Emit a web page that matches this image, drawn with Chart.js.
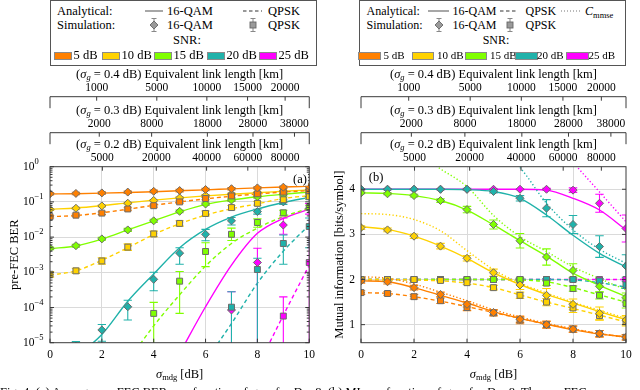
<!DOCTYPE html>
<html>
<head>
<meta charset="utf-8">
<script src="https://cdn.jsdelivr.net/npm/chart.js@4.4.1/dist/chart.umd.min.js"></script>
<style>
  body { margin: 0; width: 640px; height: 390px; overflow: hidden; position: relative; background: #fff;
         font-family: "Liberation Serif", serif; font-size: 12.5px; color: #000; }
  .box { position: absolute; top: 0; height: 66px; width: 267px; border: 1.2px solid #555; box-sizing: border-box; }
  .t { position: absolute; line-height: 14px; white-space: nowrap; }
  .r { font-size: 12px; }
  .rs { font-size: 11px; }
  .c { transform: translateX(-50%); }
  .sw { position: absolute; height: 6px; border: 0.8px solid #8a8a8a; }
  svg { position: absolute; }
  canvas { position: absolute; top: 60px; }
  #caption { position: absolute; left: 0; top: 385px; font-size: 12.5px; line-height: 14px; white-space: nowrap; }
</style>
</head>
<body>

<!-- leyenda izquierda -->
<div class="box" style="left:50px"></div>
<div class="t" style="left:57px;top:4px">Analytical:</div>
<svg style="left:145px;top:7px" width="18" height="8"><line x1="0" y1="4" x2="18" y2="4" stroke="#777" stroke-width="1.3"/></svg>
<div class="t" style="left:167px;top:4px">16-QAM</div>
<svg style="left:243px;top:7px" width="19" height="8"><line x1="0" y1="4" x2="19" y2="4" stroke="#777" stroke-width="1.3" stroke-dasharray="3.5,2.5"/></svg>
<div class="t" style="left:268px;top:4px">QPSK</div>
<div class="t" style="left:57px;top:18px">Simulation:</div>
<svg style="left:149px;top:17px" width="10" height="16"><path d="M5 1.5V14.5M2.5 1.5H7.5M2.5 14.5H7.5" stroke="#888" stroke-width="1"/><path d="M5 4L9 8L5 12L1 8Z" fill="#9a9a9a" stroke="#666" stroke-width="0.9"/></svg>
<div class="t" style="left:167px;top:18px">16-QAM</div>
<svg style="left:248px;top:17px" width="10" height="16"><path d="M5 1.5V14.5M2.5 1.5H7.5M2.5 14.5H7.5" stroke="#888" stroke-width="1"/><rect x="2" y="5" width="6" height="6" fill="#9a9a9a" stroke="#666" stroke-width="0.9"/></svg>
<div class="t" style="left:268px;top:18px">QPSK</div>
<div class="t c" style="left:187px;top:33px">SNR:</div>

<!-- leyenda derecha -->
<div class="box" style="left:359px"></div>
<div class="t r" style="left:366.5px;top:4px">Analytical:</div>
<svg style="left:428px;top:7px" width="21" height="8"><line x1="0" y1="4" x2="21" y2="4" stroke="#777" stroke-width="1.3"/></svg>
<div class="t r" style="left:452.5px;top:4px">16-QAM</div>
<svg style="left:500px;top:7px" width="18" height="8"><line x1="0" y1="4" x2="18" y2="4" stroke="#777" stroke-width="1.3" stroke-dasharray="3.5,2.5"/></svg>
<div class="t r" style="left:525.5px;top:4px">QPSK</div>
<svg style="left:561px;top:7px" width="21" height="8"><line x1="0" y1="4" x2="21" y2="4" stroke="#777" stroke-width="1.2" stroke-dasharray="1,2"/></svg>
<div class="t r" style="left:585px;top:4px"><i>C</i><span style="font-size:8.5px;position:relative;top:3px">mmse</span></div>
<div class="t r" style="left:366.5px;top:18px">Simulation:</div>
<svg style="left:434px;top:17px" width="10" height="16"><path d="M5 1.5V14.5M2.5 1.5H7.5M2.5 14.5H7.5" stroke="#888" stroke-width="1"/><path d="M5 4L9 8L5 12L1 8Z" fill="#9a9a9a" stroke="#666" stroke-width="0.9"/></svg>
<div class="t r" style="left:452.5px;top:18px">16-QAM</div>
<svg style="left:505px;top:17px" width="10" height="16"><path d="M5 1.5V14.5M2.5 1.5H7.5M2.5 14.5H7.5" stroke="#888" stroke-width="1"/><rect x="2" y="5" width="6" height="6" fill="#9a9a9a" stroke="#666" stroke-width="0.9"/></svg>
<div class="t r" style="left:525.5px;top:18px">QPSK</div>
<div class="t r c" style="left:496px;top:33px">SNR:</div>

<canvas id="berCanvas" width="320" height="330" style="left:0"></canvas>
<canvas id="miCanvas" width="320" height="330" style="left:320px"></canvas>

<div id="caption">Fig. 4: (a) Average pre-FEC BER as a function of <i>σ</i><sub style="font-size:8.5px">mdg</sub> for <i>D</i> = 8. (b) MI as a function of <i>σ</i><sub style="font-size:8.5px">mdg</sub> for <i>D</i> = 8. The pre-FEC</div>

<script>
// Datos
var sigmaMdg = [0, 1, 2, 3, 4, 5, 6, 7, 8, 9, 10];
var snrNames = ['5 dB', '10 dB', '15 dB', '20 dB', '25 dB'];
var snrColors = ['#ff8000', '#ffd200', '#80ff00', '#20b2aa', '#ff00ff'];

// ejes superiores: longitud equivalente [km] y su sigma_mdg
var linkKm04 = [1000, 5000, 10000, 15000, 20000];
var sigmaKm04 = [1.8, 4.12, 6.05, 7.62, 9.07];
var linkKm03 = [2000, 8000, 18000, 28000, 38000];
var sigmaKm03 = [1.9, 3.92, 6.07, 7.83, 9.43];
var linkKm02 = [5000, 20000, 40000, 60000, 80000];
var sigmaKm02 = [2.02, 4.1, 6.04, 7.63, 9.07];
var miTicks = [1, 2, 3, 4];

// (a) pre-FEC BER, analitico
var berAna16qam = [
  [0.168, 0.171, 0.177, 0.185, 0.195, 0.207, 0.22, 0.235, 0.25, 0.265, 0.28],
  [0.062, 0.067, 0.078, 0.094, 0.112, 0.13, 0.148, 0.165, 0.182, 0.2, 0.22],
  [4.7e-3, 5.6e-3, 8.8e-3, 0.016, 0.029, 0.052, 0.085, 0.113, 0.14, 0.165, 0.19],
  [null, 4e-6, 1.7e-5, 1.5e-4, 9e-4, 5e-3, 0.0166, 0.037, 0.063, 0.096, 0.135],
  [null, null, null, null, null, 5e-6, 1.05e-4, 1.6e-3, 0.0128, 0.034, 0.062]
];
var berAnaQpsk = [
  [0.038, 0.041, 0.049, 0.062, 0.08, 0.1, 0.122, 0.145, 0.168, 0.19, 0.21],
  [8.3e-4, 1.1e-3, 2.2e-3, 5e-3, 0.0118, 0.024, 0.042, 0.064, 0.088, 0.125, 0.15],
  [null, null, null, 3e-6, 3e-5, 2.3e-4, 1.5e-3, 6.6e-3, 0.018, 0.038, 0.066],
  [null, null, null, null, null, null, 3e-6, 3.5e-5, 4.9e-4, 4e-3, 0.022],
  [null, null, null, null, null, null, null, null, 2e-6, 6e-5, 1.6e-3]
];
// (a) simulacion con barras de error
var berSim16qam = [
  [0.17, 0.174, 0.18, 0.19, 0.2, 0.21, 0.225, 0.237, 0.25, 0.262, 0.275],
  [0.061, 0.066, 0.077, 0.092, 0.11, 0.13, 0.15, 0.167, 0.183, 0.2, 0.22],
  [4.8e-3, 5.7e-3, 8.9e-3, 0.016, 0.029, 0.054, 0.087, 0.113, 0.14, 0.16, 0.18],
  [null, 5e-6, 2.3e-5, 1.05e-4, 6.3e-4, 3.5e-3, 0.012, 0.029, 0.053, 0.1, 0.14],
  [null, null, null, null, null, null, null, 8.5e-5, 1.9e-3, 0.022, 0.065]
];
var berLo16qam = [
  [0.157, 0.16, 0.166, 0.175, 0.184, 0.193, 0.207, 0.218, 0.23, 0.241, 0.253],
  [0.057, 0.062, 0.072, 0.086, 0.103, 0.121, 0.139, 0.155, 0.17, 0.186, 0.204],
  [4.4e-3, 5.2e-3, 8.1e-3, 0.0145, 0.026, 0.049, 0.079, 0.103, 0.128, 0.146, 0.165],
  [null, 1e-7, 1.1e-5, 4.4e-5, 3e-4, 1.7e-3, 7.9e-3, 0.022, 0.045, 0.085, 0.12],
  [null, null, null, null, null, null, null, 1e-7, 1e-7, 0.012, 0.045]
];
var berHi16qam = [
  [0.183, 0.188, 0.194, 0.205, 0.216, 0.227, 0.243, 0.256, 0.27, 0.283, 0.297],
  [0.065, 0.07, 0.082, 0.098, 0.117, 0.139, 0.161, 0.179, 0.196, 0.214, 0.236],
  [5.2e-3, 6.2e-3, 9.8e-3, 0.0177, 0.032, 0.059, 0.095, 0.124, 0.153, 0.175, 0.196],
  [null, 1.07e-5, 3.3e-5, 1.6e-4, 1e-3, 5e-3, 0.0166, 0.036, 0.062, 0.115, 0.16],
  [null, null, null, null, null, null, null, 2.8e-4, 4.8e-3, 0.035, 0.09]
];
var berSimQpsk = [
  [0.038, 0.042, 0.048, 0.063, 0.078, 0.1, 0.125, 0.148, 0.17, 0.19, 0.21],
  [8.8e-4, 1.1e-3, 2.1e-3, 5.2e-3, 0.0123, 0.0245, 0.047, 0.069, 0.091, 0.115, 0.14],
  [null, null, null, null, 6.8e-5, 5.6e-4, 3.9e-3, 0.012, 0.026, 0.049, 0.07],
  [null, null, null, null, null, null, null, 1.02e-4, 1.2e-3, 6.6e-3, 0.02],
  [null, null, null, null, null, null, null, null, null, 5.7e-5, 1.9e-3]
];
var berLoQpsk = [
  [0.035, 0.039, 0.044, 0.058, 0.071, 0.092, 0.115, 0.136, 0.156, 0.175, 0.193],
  [7.3e-4, 9.2e-4, 1.7e-3, 4.2e-3, 0.0102, 0.0205, 0.04, 0.06, 0.08, 0.102, 0.125],
  [null, null, null, null, 1e-7, 6.8e-5, 1.45e-3, 0.008, 0.019, 0.04, 0.06],
  [null, null, null, null, null, null, null, 1e-7, 1e-7, 1.7e-3, 5e-3],
  [null, null, null, null, null, null, null, null, null, 1e-7, 1e-7]
];
var berHiQpsk = [
  [0.041, 0.045, 0.052, 0.068, 0.085, 0.108, 0.135, 0.16, 0.184, 0.205, 0.227],
  [1.05e-3, 1.3e-3, 2.6e-3, 6.4e-3, 0.0148, 0.0292, 0.055, 0.079, 0.103, 0.13, 0.157],
  [null, null, null, null, 1.4e-4, 1.05e-3, 6.9e-3, 0.018, 0.033, 0.058, 0.08],
  [null, null, null, null, null, null, null, 2.8e-4, 2.5e-3, 0.0115, 0.035],
  [null, null, null, null, null, null, null, null, null, 2e-4, 0.09]
];

// (b) informacion mutua
var miAna16qam = [
  [1.97, 1.95, 1.82, 1.65, 1.48, 1.29, 1.14, 1.01, 0.89, 0.79, 0.73],
  [3.17, 3.11, 2.96, 2.74, 2.47, 2.15, 1.89, 1.67, 1.48, 1.29, 1.11],
  [3.92, 3.91, 3.86, 3.75, 3.54, 3.21, 2.86, 2.52, 2.14, 1.87, 1.62],
  [4, 4, 4, 4, 3.99, 3.95, 3.8, 3.43, 2.98, 2.58, 2.28],
  [4, 4, 4, 4, 4, 4, 4, 3.98, 3.8, 3.54, 3.1]
];
var miAnaQpsk = [
  [1.71, 1.69, 1.62, 1.52, 1.4, 1.27, 1.14, 1.01, 0.9, 0.8, 0.72],
  [2, 2, 1.99, 1.97, 1.92, 1.82, 1.66, 1.5, 1.36, 1.21, 1.06],
  [2, 2, 2, 2, 2, 2, 1.99, 1.95, 1.82, 1.66, 1.5],
  [2, 2, 2, 2, 2, 2, 2, 2, 1.99, 1.93, 1.83],
  [2, 2, 2, 2, 2, 2, 2, 2, 2, 2, 2]
];
var miCmmse = [
  [2.06, 2.03, 1.9, 1.72, 1.53, 1.33, 1.17, 1.03, 0.91, 0.8, 0.73],
  [3.46, 3.44, 3.33, 3.08, 2.64, 2.22, 1.92, 1.7, 1.5, 1.32, 1.14],
  [5.03, 5.0, 4.85, 4.45, 4.06, 3.42, 2.95, 2.62, 2.28, 2.02, 1.77],
  [null, null, null, null, 5.5, 5.0, 4.48, 3.69, 3.1, 2.67, 2.36],
  [null, null, null, null, null, null, null, 5.3, 4.6, 3.94, 3.28]
];
var miSim16qam = [
  [1.97, 1.95, 1.82, 1.67, 1.45, 1.27, 1.12, 1.0, 0.9, 0.8, 0.72],
  [3.15, 3.1, 2.96, 2.74, 2.47, 2.15, 1.88, 1.65, 1.45, 1.25, 1.1],
  [3.92, 3.9, 3.86, 3.75, 3.55, 3.22, 2.86, 2.5, 2.2, 1.85, 1.6],
  [4, 4, 4, 4, 4, 3.95, 3.8, 3.58, 3.22, 2.73, 2.3],
  [4, 4, 4, 4, 4, 4, 4, 4, 3.98, 3.69, 3.13]
];
var miErr16qam = [
  [0.05, 0.05, 0.05, 0.05, 0.06, 0.06, 0.07, 0.07, 0.07, 0.07, 0.06],
  [0.04, 0.04, 0.05, 0.06, 0.06, 0.08, 0.1, 0.15, 0.12, 0.14, 0.1],
  [0.02, 0.02, 0.03, 0.04, 0.07, 0.1, 0.16, 0.18, 0.15, 0.13, 0.1],
  [0.01, 0.01, 0.01, 0.01, 0.02, 0.03, 0.06, 0.19, 0.2, 0.24, 0.25],
  [0.01, 0.01, 0.01, 0.01, 0.01, 0.01, 0.01, 0.02, 0.05, 0.2, 0.3]
];
var miSimQpsk = [
  [1.71, 1.69, 1.62, 1.53, 1.38, 1.26, 1.1, 1.0, 0.9, 0.8, 0.72],
  [2, 2, 2, 1.98, 1.93, 1.82, 1.65, 1.5, 1.37, 1.2, 1.07],
  [2, 2, 2, 2, 2, 2, 2, 1.92, 1.8, 1.65, 1.47],
  [2, 2, 2, 2, 2, 2, 2, 2, 2, 1.97, 1.88],
  [2, 2, 2, 2, 2, 2, 2, 2, 2, 2, 2]
];
var miErrQpsk = [
  [0.04, 0.04, 0.05, 0.06, 0.07, 0.07, 0.08, 0.08, 0.07, 0.07, 0.06],
  [0.02, 0.02, 0.02, 0.03, 0.04, 0.05, 0.07, 0.08, 0.1, 0.1, 0.1],
  [0.01, 0.01, 0.01, 0.01, 0.01, 0.02, 0.03, 0.05, 0.06, 0.08, 0.1],
  [0.01, 0.01, 0.01, 0.01, 0.01, 0.01, 0.01, 0.02, 0.03, 0.05, 0.08],
  [0.01, 0.01, 0.01, 0.01, 0.01, 0.01, 0.01, 0.01, 0.01, 0.01, 0.01]
];

var FONT = '"Liberation Serif", serif';
var TXT = 12.5, SUB = 8.5;
Chart.defaults.font.family = FONT;
Chart.defaults.font.size = 11.5;
Chart.defaults.color = '#000';

// muestras de color SNR en las leyendas
function addSwatches(swX, labX, w, cls) {
  for (var i = 0; i < snrNames.length; i++) {
    var s = document.createElement('div');
    s.className = 'sw';
    s.style.left = swX[i] + 'px';
    s.style.width = w + 'px';
    s.style.top = '52px';
    s.style.background = snrColors[i];
    document.body.appendChild(s);
    var t = document.createElement('div');
    t.className = 't ' + cls;
    t.style.left = labX[i] + 'px';
    t.style.top = '48px';
    t.textContent = snrNames[i];
    document.body.appendChild(t);
  }
}
addSwatches([54, 102, 154, 207, 259], [73.5, 121.5, 173.5, 226.5, 278.5], 16, '');
addSwatches([358, 411.5, 464.5, 515, 566], [383.5, 437, 490, 537, 588.5], 20.5, 'rs');

function pts(vals) {
  return sigmaMdg.map(function (x, i) { return { x: x, y: vals[i] }; });
}
function anaSet(vals, color, dash) {
  return { data: pts(vals), borderColor: color, borderWidth: 1.4, borderDash: dash, pointRadius: 0,
           cubicInterpolationMode: 'monotone', spanGaps: false, fill: false, order: 3 };
}
function simSet(vals, color, style) {
  return { data: pts(vals), showLine: false, pointStyle: style, pointRadius: style === 'rectRot' ? 4 : 4.2,
           pointBackgroundColor: color, pointBorderColor: '#6a6a6a', pointBorderWidth: 1, order: 1 };
}
function barSet(lo, hi, color) {
  var c = 0.16, p = [];
  sigmaMdg.forEach(function (x, i) {
    if (lo[i] == null) return;
    p.push({ x: x, y: lo[i] }, { x: x, y: hi[i] }, { x: x, y: null },
           { x: x - c, y: hi[i] }, { x: x + c, y: hi[i] }, { x: x, y: null },
           { x: x - c, y: lo[i] }, { x: x + c, y: lo[i] }, { x: x, y: null });
  });
  return { data: p, borderColor: color, borderWidth: 1.1, pointRadius: 0, spanGaps: false,
           tension: 0, fill: false, order: 2 };
}

var berSets = [], miSets = [];
for (var k = 0; k < snrColors.length; k++) {
  var col = snrColors[k];
  berSets.push(anaSet(berAna16qam[k], col, []));
  berSets.push(anaSet(berAnaQpsk[k], col, [4, 3]));
  berSets.push(barSet(berLo16qam[k], berHi16qam[k], col));
  berSets.push(barSet(berLoQpsk[k], berHiQpsk[k], col));
  berSets.push(simSet(berSim16qam[k], col, 'rectRot'));
  berSets.push(simSet(berSimQpsk[k], col, 'rect'));

  var lo1 = miSim16qam[k].map(function (v, i) { return v - miErr16qam[k][i]; });
  var hi1 = miSim16qam[k].map(function (v, i) { return v + miErr16qam[k][i]; });
  var lo2 = miSimQpsk[k].map(function (v, i) { return v - miErrQpsk[k][i]; });
  var hi2 = miSimQpsk[k].map(function (v, i) { return v + miErrQpsk[k][i]; });
  miSets.push(anaSet(miCmmse[k], col, [1.3, 2.2]));
  miSets.push(anaSet(miAna16qam[k], col, []));
  miSets.push(anaSet(miAnaQpsk[k], col, [4, 3]));
  miSets.push(barSet(lo1, hi1, col));
  miSets.push(barSet(lo2, hi2, col));
  miSets.push(simSet(miSim16qam[k], col, 'rectRot'));
  miSets.push(simSet(miSimQpsk[k], col, 'rect'));
}

// texto con subindices
function fontOf(p) {
  var size = p.sub || p.sup ? SUB : (p.size || TXT);
  return (p.it ? 'italic ' : '') + size + 'px ' + FONT;
}
function drawRich(ctx, parts, x, y, align) {
  var total = 0;
  parts.forEach(function (p) { ctx.font = fontOf(p); p.w = ctx.measureText(p.t).width; total += p.w; });
  var cx = align === 'center' ? x - total / 2 : (align === 'right' ? x - total : x);
  ctx.textAlign = 'left';
  ctx.textBaseline = 'middle';
  parts.forEach(function (p) {
    ctx.font = fontOf(p);
    ctx.fillText(p.t, cx, y + (p.sub ? 3 : (p.sup ? -5 : 0)));
    cx += p.w;
  });
}

var decoPlugin = {
  id: 'deco',
  afterDraw: function (chart) {
    var o = chart.options.plugins.deco;
    var ctx = chart.ctx, a = chart.chartArea;
    var xs = chart.scales.x, ys = chart.scales.y;
    ctx.save();
    ctx.strokeStyle = '#3a3a3a';
    ctx.fillStyle = '#000';
    ctx.lineWidth = 1;
    ctx.strokeRect(a.left, a.top, a.right - a.left, a.bottom - a.top);

    ctx.beginPath();
    xs.ticks.forEach(function (t) {
      var px = xs.getPixelForValue(t.value);
      ctx.moveTo(px, a.bottom); ctx.lineTo(px, a.bottom - 4);
    });
    var yt = [];
    if (o.logTicks) {
      for (var e = -5; e <= 0; e++) {
        for (var m = 1; m <= 9; m++) {
          if (e === 0 && m > 1) break;
          yt.push({ v: m * Math.pow(10, e), len: m === 1 ? 4 : 2.5 });
        }
      }
    } else {
      miTicks.forEach(function (v) { yt.push({ v: v, len: 4 }); });
    }
    yt.forEach(function (t) {
      var py = ys.getPixelForValue(t.v);
      ctx.moveTo(a.left, py); ctx.lineTo(a.left + t.len, py);
      ctx.moveTo(a.right, py); ctx.lineTo(a.right - t.len, py);
    });
    ctx.stroke();

    // ejes de longitud equivalente
    o.topAxes.forEach(function (ax) {
      var s = chart.scales[ax.id], yl = s.bottom;
      ctx.beginPath();
      if (ax.capped) {
        ctx.moveTo(a.left, yl + 11.5); ctx.lineTo(a.left, yl);
        ctx.lineTo(a.right, yl); ctx.lineTo(a.right, yl + 11.5);
      }
      s.ticks.forEach(function (t) {
        var px = s.getPixelForValue(t.value);
        ctx.moveTo(px, yl); ctx.lineTo(px, yl + 4);
      });
      ctx.stroke();
      drawRich(ctx, [{ t: '(' }, { t: 'σ', it: true }, { t: 'g', it: true, sub: true },
                     { t: ' = ' + ax.sg + ' dB) Equivalent link length [km]' }],
               (a.left + a.right) / 2, yl - 21.7, 'center');
    });

    drawRich(ctx, [{ t: 'σ', it: true }, { t: 'mdg', sub: true }, { t: ' [dB]' }],
             (a.left + a.right) / 2, a.bottom + 32, 'center');
    ctx.save();
    ctx.translate(o.yTitleX, (a.top + a.bottom) / 2);
    ctx.rotate(-Math.PI / 2);
    drawRich(ctx, [{ t: o.yTitle }], 0, 0, 'center');
    ctx.restore();

    ctx.font = TXT + 'px ' + FONT;
    var lw = ctx.measureText(o.panel).width;
    ctx.fillStyle = '#fff';
    ctx.fillRect(o.panelX - lw / 2 - 1, a.top + o.panelDy - 6, lw + 2, 12);
    ctx.fillStyle = '#000';
    drawRich(ctx, [{ t: o.panel }], o.panelX, a.top + o.panelDy, 'center');

    if (o.logTicks) {
      for (var d = -5; d <= 0; d++) {
        var py = ys.getPixelForValue(Math.pow(10, d));
        drawRich(ctx, [{ t: '10', size: 11.5 }, { t: d === 0 ? '0' : '\u2212' + (-d), sup: true }], 23, py, 'left');
      }
    }
    ctx.restore();
  }
};

function gridX(c) {
  return (c.tick && c.tick.value > 0 && c.tick.value < 10) ? '#dadada' : 'rgba(0,0,0,0)';
}
function topAxis(weight, vals, labels, h) {
  return {
    type: 'linear', position: 'top', weight: weight, min: 0, max: 10,
    afterBuildTicks: function (s) { s.ticks = vals.map(function (v) { return { value: v }; }); },
    ticks: { callback: function (v, i) { return labels[i]; }, autoSkip: false, maxRotation: 0, padding: 2 },
    grid: { display: false, drawTicks: false }, border: { display: false },
    afterFit: function (s) { s.height = h; }
  };
}
function bottomAxis() {
  return {
    type: 'linear', position: 'bottom', min: 0, max: 10,
    ticks: { stepSize: 2, padding: 5, maxRotation: 0 },
    grid: { color: gridX, drawTicks: false }, border: { display: false },
    afterFit: function (s) { s.height = 47.3; }
  };
}

new Chart(document.getElementById('berCanvas'), {
  type: 'line',
  data: { datasets: berSets },
  options: {
    responsive: false, animation: false, events: [],
    layout: { padding: { left: 0, right: 6, top: 0, bottom: 0 } },
    plugins: {
      legend: { display: false }, tooltip: { enabled: false },
      deco: { logTicks: true, yTitle: 'pre-FEC BER', yTitleX: 15, panel: '(a)', panelX: 300, panelDy: 13,
              topAxes: [{ id: 'x02', sg: '0.2', capped: false }, { id: 'x03', sg: '0.3', capped: true },
                        { id: 'x04', sg: '0.4', capped: true }] }
    },
    scales: {
      x: bottomAxis(),
      y: {
        type: 'logarithmic', min: 1e-5, max: 1,
        ticks: { display: false, autoSkip: false },
        grid: {
          drawTicks: false,
          color: function (c) {
            if (!c.tick) return 'rgba(0,0,0,0)';
            var l = Math.log10(c.tick.value);
            return (Math.abs(l - Math.round(l)) < 1e-6 && l > -4.5 && l < -0.5) ? '#dadada' : 'rgba(0,0,0,0)';
          }
        },
        border: { display: false },
        afterFit: function (s) { s.width = 50; }
      },
      x02: topAxis(1, sigmaKm02, linkKm02, 34),
      x03: topAxis(2, sigmaKm03, linkKm03, 36),
      x04: topAxis(3, sigmaKm04, linkKm04, 36.7)
    }
  },
  plugins: [decoPlugin]
});

new Chart(document.getElementById('miCanvas'), {
  type: 'line',
  data: { datasets: miSets },
  options: {
    responsive: false, animation: false, events: [],
    layout: { padding: { left: 0, right: 14, top: 0, bottom: 0 } },
    plugins: {
      legend: { display: false }, tooltip: { enabled: false },
      deco: { logTicks: false, yTitle: 'Mutual information [bits/symbol]', yTitleX: 20, panel: '(b)',
              panelX: 56, panelDy: 11,
              topAxes: [{ id: 'x02', sg: '0.2', capped: false }, { id: 'x03', sg: '0.3', capped: true },
                        { id: 'x04', sg: '0.4', capped: true }] }
    },
    scales: {
      x: bottomAxis(),
      y: {
        type: 'linear', min: 0.6, max: 4.5,
        afterBuildTicks: function (s) { s.ticks = miTicks.map(function (v) { return { value: v }; }); },
        ticks: { padding: 6 },
        grid: { color: '#dadada', drawTicks: false },
        border: { display: false },
        afterFit: function (s) { s.width = 41; }
      },
      x02: topAxis(1, sigmaKm02, linkKm02, 34),
      x03: topAxis(2, sigmaKm03, linkKm03, 36),
      x04: topAxis(3, sigmaKm04, linkKm04, 36.7)
    }
  },
  plugins: [decoPlugin]
});
</script>
</body>
</html>
